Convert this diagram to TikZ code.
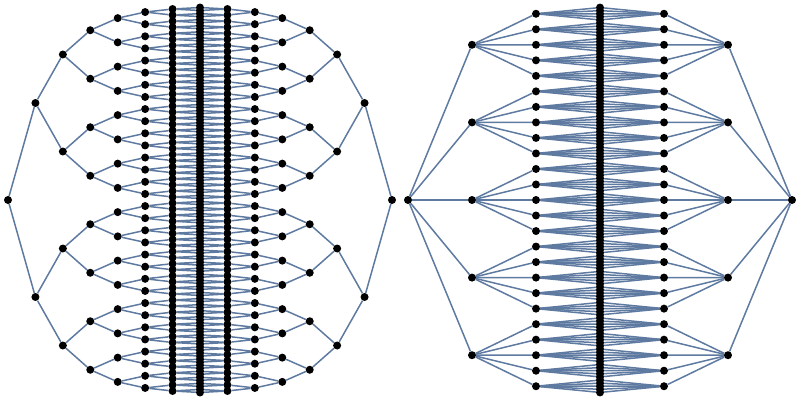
\documentclass[tikz,border=0pt]{standalone}
\usetikzlibrary{backgrounds}
\definecolor{edgec}{RGB}{95,122,160}
\tikzset{dot/.style={circle,fill=black,inner sep=0pt,minimum size=8pt},
 edge/.style={draw=edgec,line width=1.5pt}}
\begin{document}
\begin{tikzpicture}[x=1pt,y=-1pt]
\useasboundingbox (0,0) rectangle (800,401);
% left glued binary trees
\foreach \k in {0,...,7}{
 \pgfmathtruncatemacro\n{2^\k}
 \pgfmathtruncatemacro\m{\n-1}
 \pgfmathsetmacro\sp{388/\n}
 \foreach \i in {0,...,\m}{
  \pgfmathsetmacro\yy{200+(\i-(\n-1)/2)*\sp}
  \ifnum\k=7
   \node[dot,alias=b-7-\i] (a-7-\i) at (200,\yy) {};
  \else
   \node[dot] (a-\k-\i) at ({8+27.43*\k},\yy) {};
   \node[dot] (b-\k-\i) at ({392-27.43*\k},\yy) {};
  \fi
 }}
\begin{scope}[on background layer]
\foreach \k in {0,...,6}{
 \pgfmathtruncatemacro\n{2^\k}
 \pgfmathtruncatemacro\m{\n-1}
 \pgfmathtruncatemacro\kk{\k+1}
 \foreach \i in {0,...,\m}{
  \pgfmathtruncatemacro\c{2*\i}
  \pgfmathtruncatemacro\d{2*\i+1}
  \draw[edge] (a-\k-\i) -- (a-\kk-\c) (a-\k-\i) -- (a-\kk-\d)
              (b-\k-\i) -- (b-\kk-\c) (b-\k-\i) -- (b-\kk-\d);
 }}
\end{scope}
% right glued 5-ary trees
\foreach \k in {0,...,3}{
 \pgfmathtruncatemacro\n{5^\k}
 \pgfmathtruncatemacro\m{\n-1}
 \pgfmathsetmacro\sp{388/\n}
 \foreach \i in {0,...,\m}{
  \pgfmathsetmacro\yy{200+(\i-(\n-1)/2)*\sp}
  \ifnum\k=3
   \node[dot,alias=d-3-\i] (c-3-\i) at (600,\yy) {};
  \else
   \node[dot] (c-\k-\i) at ({408+64*\k},\yy) {};
   \node[dot] (d-\k-\i) at ({792-64*\k},\yy) {};
  \fi
 }}
\begin{scope}[on background layer]
\foreach \k in {0,...,2}{
 \pgfmathtruncatemacro\n{5^\k}
 \pgfmathtruncatemacro\m{\n-1}
 \pgfmathtruncatemacro\kk{\k+1}
 \foreach \i in {0,...,\m}{
  \foreach \j in {0,...,4}{
   \pgfmathtruncatemacro\c{5*\i+\j}
   \draw[edge] (c-\k-\i) -- (c-\kk-\c) (d-\k-\i) -- (d-\kk-\c);
  }}}
\end{scope}
\end{tikzpicture}
\end{document}
